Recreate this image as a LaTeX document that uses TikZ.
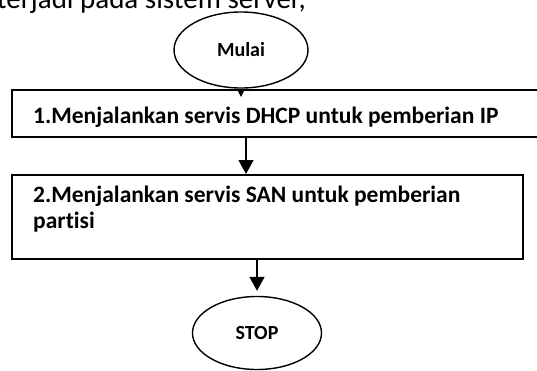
\documentclass[tikz,border=0pt]{standalone}
\usepackage{fontspec}
\setmainfont{Carlito}[Ligatures={NoCommon}]
\usetikzlibrary{shapes.geometric,arrows.meta,calc}
\begin{document}
\begin{tikzpicture}[x=1pt,y=-1pt,
  box/.style={draw=black,line width=2pt,rectangle,inner sep=0pt},
  term/.style={draw=black,line width=1.4pt,ellipse,inner sep=0pt,font=\bfseries\fontsize{20}{23}\selectfont},
  steptext/.style={anchor=base west,inner sep=0pt,font=\bfseries\fontsize{23.5}{26}\selectfont},
  arr/.style={line width=1.6pt,-{Triangle[width=15pt,length=14pt]}},
  smallarr/.style={line width=1.2pt,-{Triangle[width=8pt,length=8pt]}}]
\useasboundingbox (0,0) rectangle (537,370);
\fill[white] (0,0) rectangle (537,370);

% line of the paragraph above the chart
\node[anchor=base east,inner sep=0pt,font=\fontsize{29}{33}\selectfont] (para) at (306,8) {terjadi pada sistem server,};

% start
\node[term,minimum width=134pt,minimum height=76pt] (start) at (241,50) {Mulai};

% step 1 (box runs past the right edge)
\node[box,minimum width=530pt,minimum height=47pt] (s1) at (277,113.5) {};
\node[steptext] (t1) at (33,123) {1.Menjalankan servis DHCP untuk pemberian IP};

% step 2
\node[box,minimum width=511pt,minimum height=84pt] (s2) at (267.5,217) {};
\node[steptext] (t2a) at (33,202) {2.Menjalankan servis SAN untuk pemberian};
\node[steptext] (t2b) at (33,228) {partisi};

% stop
\node[term,minimum width=129pt,minimum height=73pt] (stop) at (257,333) {STOP};

% connectors
\draw[smallarr,shorten >=-8pt] (start.south) -- (start.south |- s1.north);
\coordinate (a2) at ($(s1.south)+(-31,0)$);
\draw[arr] (a2) -- (a2 |- s2.north);
\draw[arr,shorten >=5pt] (stop.north |- s2.south) -- (stop.north);
\end{tikzpicture}
\end{document}
